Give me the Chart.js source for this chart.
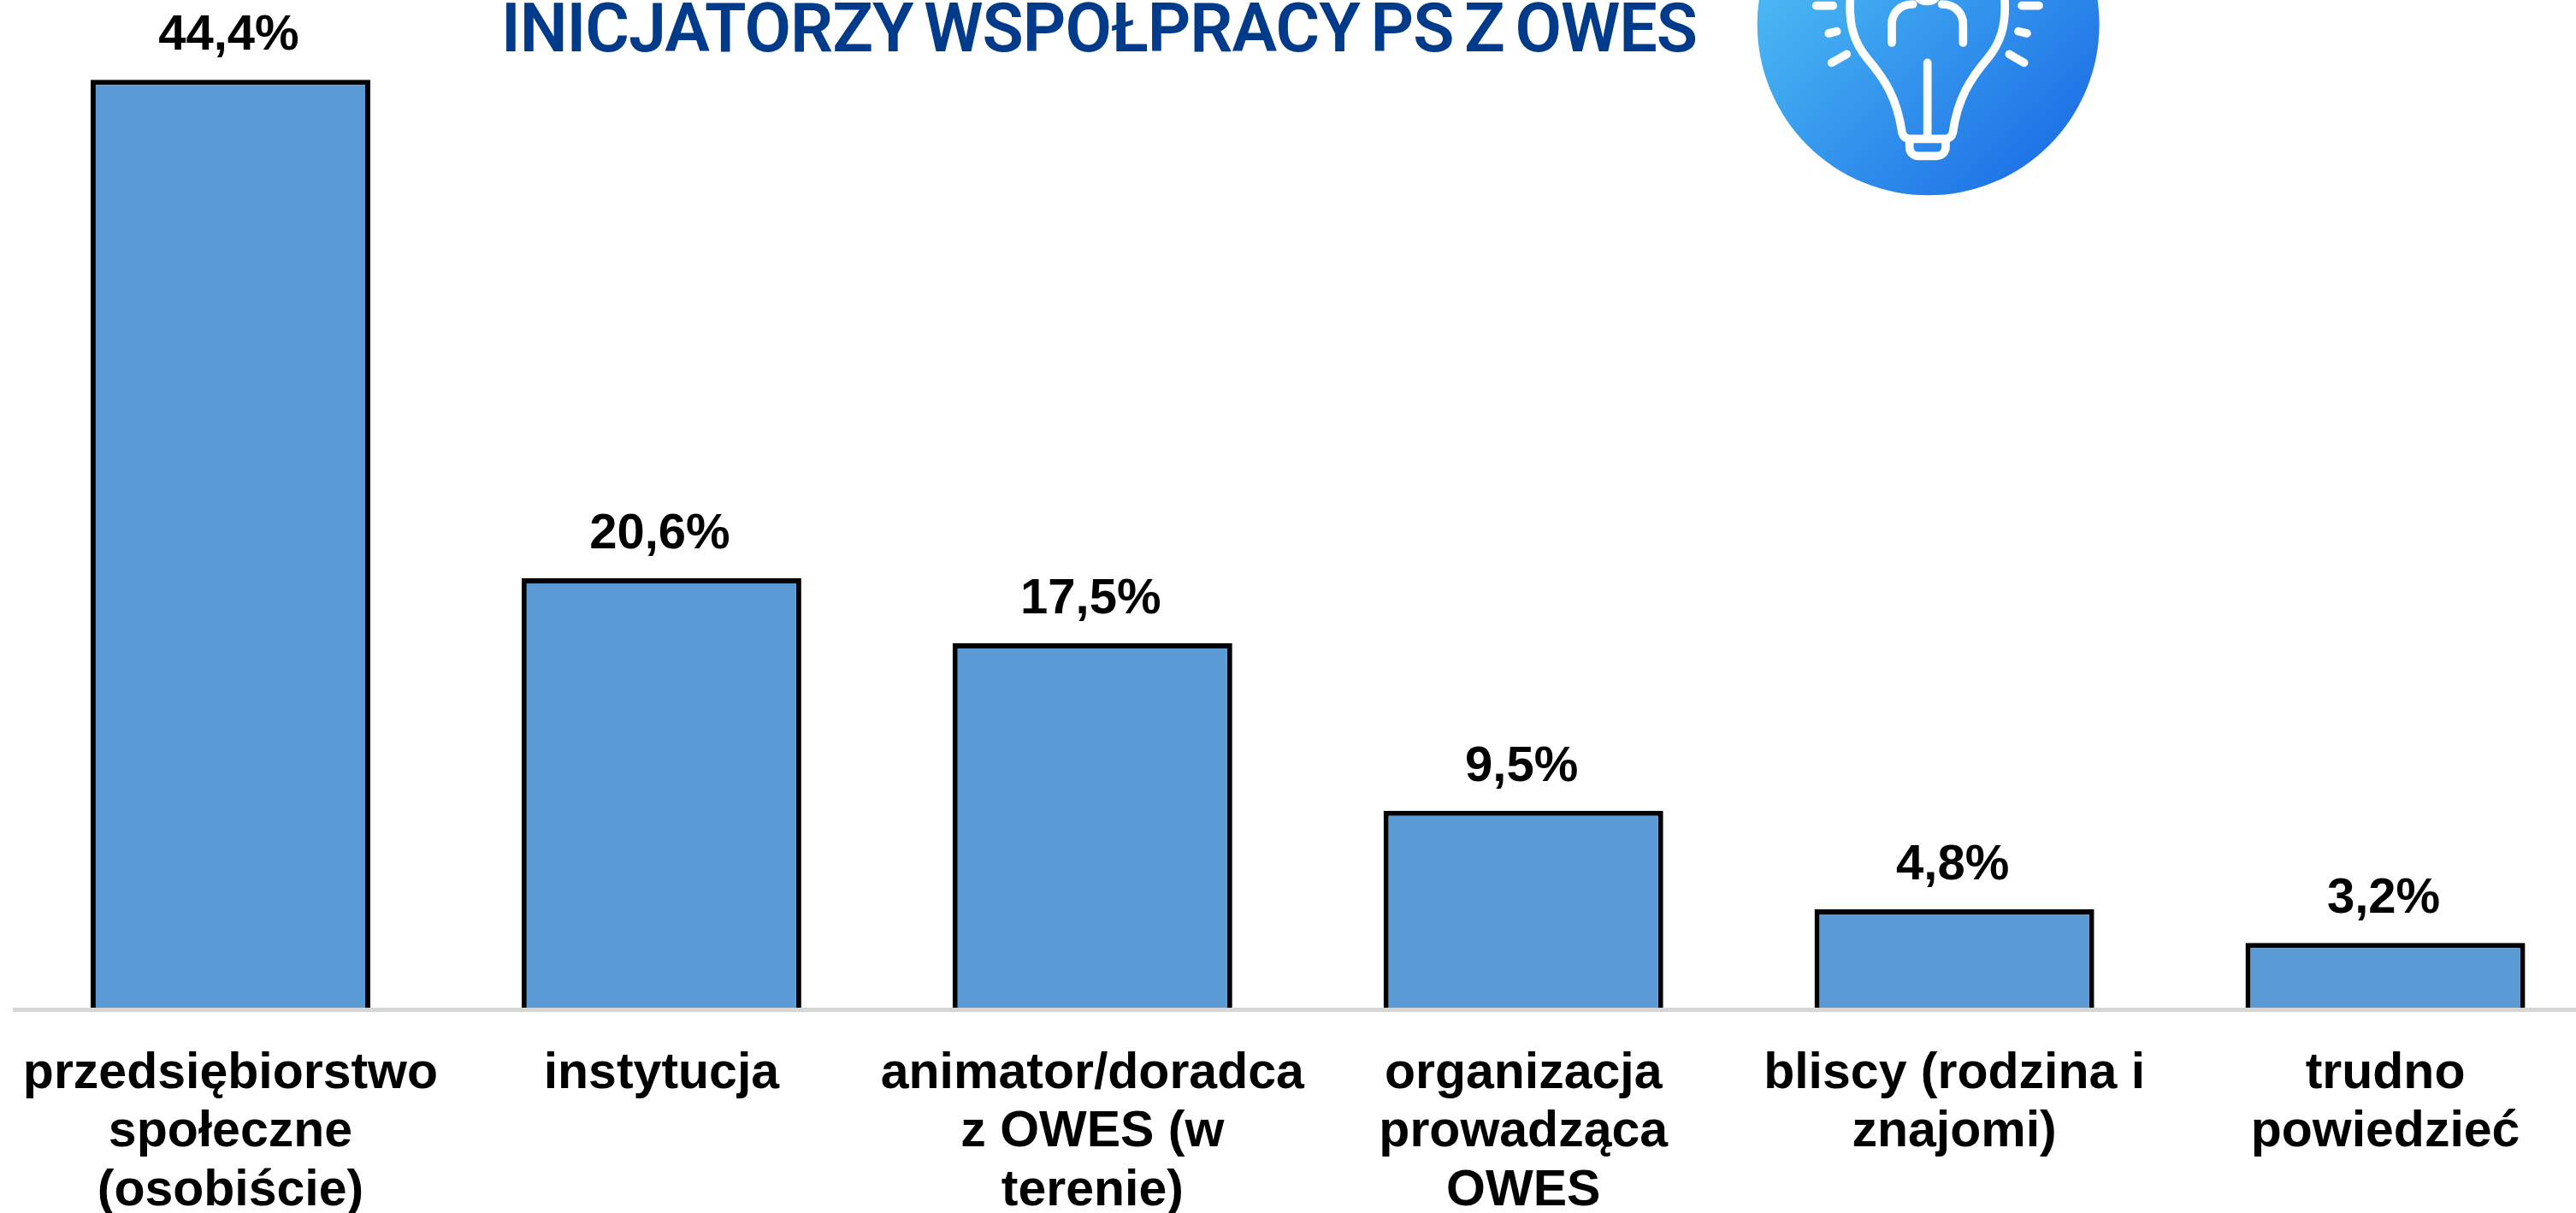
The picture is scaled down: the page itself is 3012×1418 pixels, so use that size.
<!DOCTYPE html>
<html lang="pl"><head><meta charset="utf-8">
<script src="https://cdn.jsdelivr.net/npm/chart.js@4"></script>
<style>
html,body{margin:0;padding:0;background:#fff;width:3012px;height:1418px;overflow:hidden;position:relative}
canvas{position:absolute;left:0;top:0}
#title{position:absolute;left:586px;top:-13px;font:600 79px/92px Roboto,sans-serif;color:#003a8a;white-space:nowrap;letter-spacing:-1px;word-spacing:-6px}
#icon{position:absolute;left:2040px;top:0;width:440px;height:240px}
</style></head><body>
<canvas id="c" width="3042" height="1418"></canvas>
<div id="title">INICJATORZY WSPÓŁPRACY PS Z OWES</div>
<svg id="icon" viewBox="0 0 1320 720" xmlns="http://www.w3.org/2000/svg">
<defs><linearGradient id="g" x1="0.1" y1="0.1" x2="0.9" y2="0.9"><stop offset="0" stop-color="#52c4f6"/><stop offset="1" stop-color="#1c6fe5"/></linearGradient></defs>
<circle cx="644" cy="85" r="600" fill="url(#g)"/>
<g fill="none" stroke="#fff" stroke-width="29" stroke-linecap="round" stroke-linejoin="round">
<path d="M370 0 C365 90 385 150 430 205 C490 275 535 345 552 465 C556 480 565 487 580 487 L702 487 C717 487 726 480 730 465 C747 345 792 275 852 205 C897 150 917 90 912 0"/>
<path d="M641 220 L641 480"/>
<path d="M578 495 L578 515 C578 535 592 547 610 547 L672 547 C690 547 705 535 705 515 L705 495"/>
<path d="M516 150 L516 85 C516 45 545 15 590 15"/>
<path d="M766 150 L766 85 C766 45 737 15 692 15"/>
<path d="M610 -8 C625 8 655 8 670 -8"/>
<path d="M251 20 L310 20M972 20 L1032 20M295 117 L323 110M960 110 L990 117M305 220 L358 190M928 190 L980 220"/>
</g></svg>
<script>
const categories = [
  ["przedsiębiorstwo","społeczne","(osobiście)"],
  ["instytucja"],
  ["animator/doradca","z OWES (w","terenie)"],
  ["organizacja","prowadząca","OWES"],
  ["bliscy (rodzina i","znajomi)"],
  ["trudno","powiedzieć"]
];
const shares = [44.4, 20.6, 17.5, 9.5, 4.8, 3.2];
const FONT = '"Liberation Sans", Arial, sans-serif';

const valueLabels = {
  id:'valueLabels',
  afterDatasetsDraw(chart){
    const {ctx} = chart;
    ctx.save();
    ctx.font = `bold 58px ${FONT}`;
    ctx.fillStyle = '#000';
    ctx.textAlign = 'center';
    ctx.textBaseline = 'alphabetic';
    chart.getDatasetMeta(0).data.forEach((bar,i)=>{
      ctx.fillText(shares[i].toFixed(1).replace('.',',')+'%', bar.x-2, bar.y-35);
    });
    ctx.restore();
  }
};

new Chart(document.getElementById('c'),{
  type:'bar',
  data:{labels:categories,datasets:[{
    data:shares,
    backgroundColor:'#5b9bd5',
    borderColor:'#000',
    borderWidth:{top:6,left:6,right:6,bottom:0},
    borderSkipped:false,
    categoryPercentage:1,
    barPercentage:0.649
  }]},
  options:{
    responsive:false,animation:false,
    layout:{padding:{left:17.5,right:1,top:5,bottom:0}},
    plugins:{legend:{display:false},tooltip:{enabled:false},title:{display:false}},
    scales:{
      y:{display:false,min:0,max:48},
      x:{
        afterFit(s){s.height=237.5;s.paddingLeft=0;s.paddingRight=0;},
        grid:{display:false,drawTicks:false},
        border:{display:true,color:'#d6d6d6',width:5,z:1},
        ticks:{padding:41,maxRotation:0,minRotation:0,autoSkip:false,color:'#000',
          font:{family:FONT,weight:'bold',size:59,lineHeight:1.16}}
      }
    }
  },
  plugins:[valueLabels]
});
</script>
</body></html>
